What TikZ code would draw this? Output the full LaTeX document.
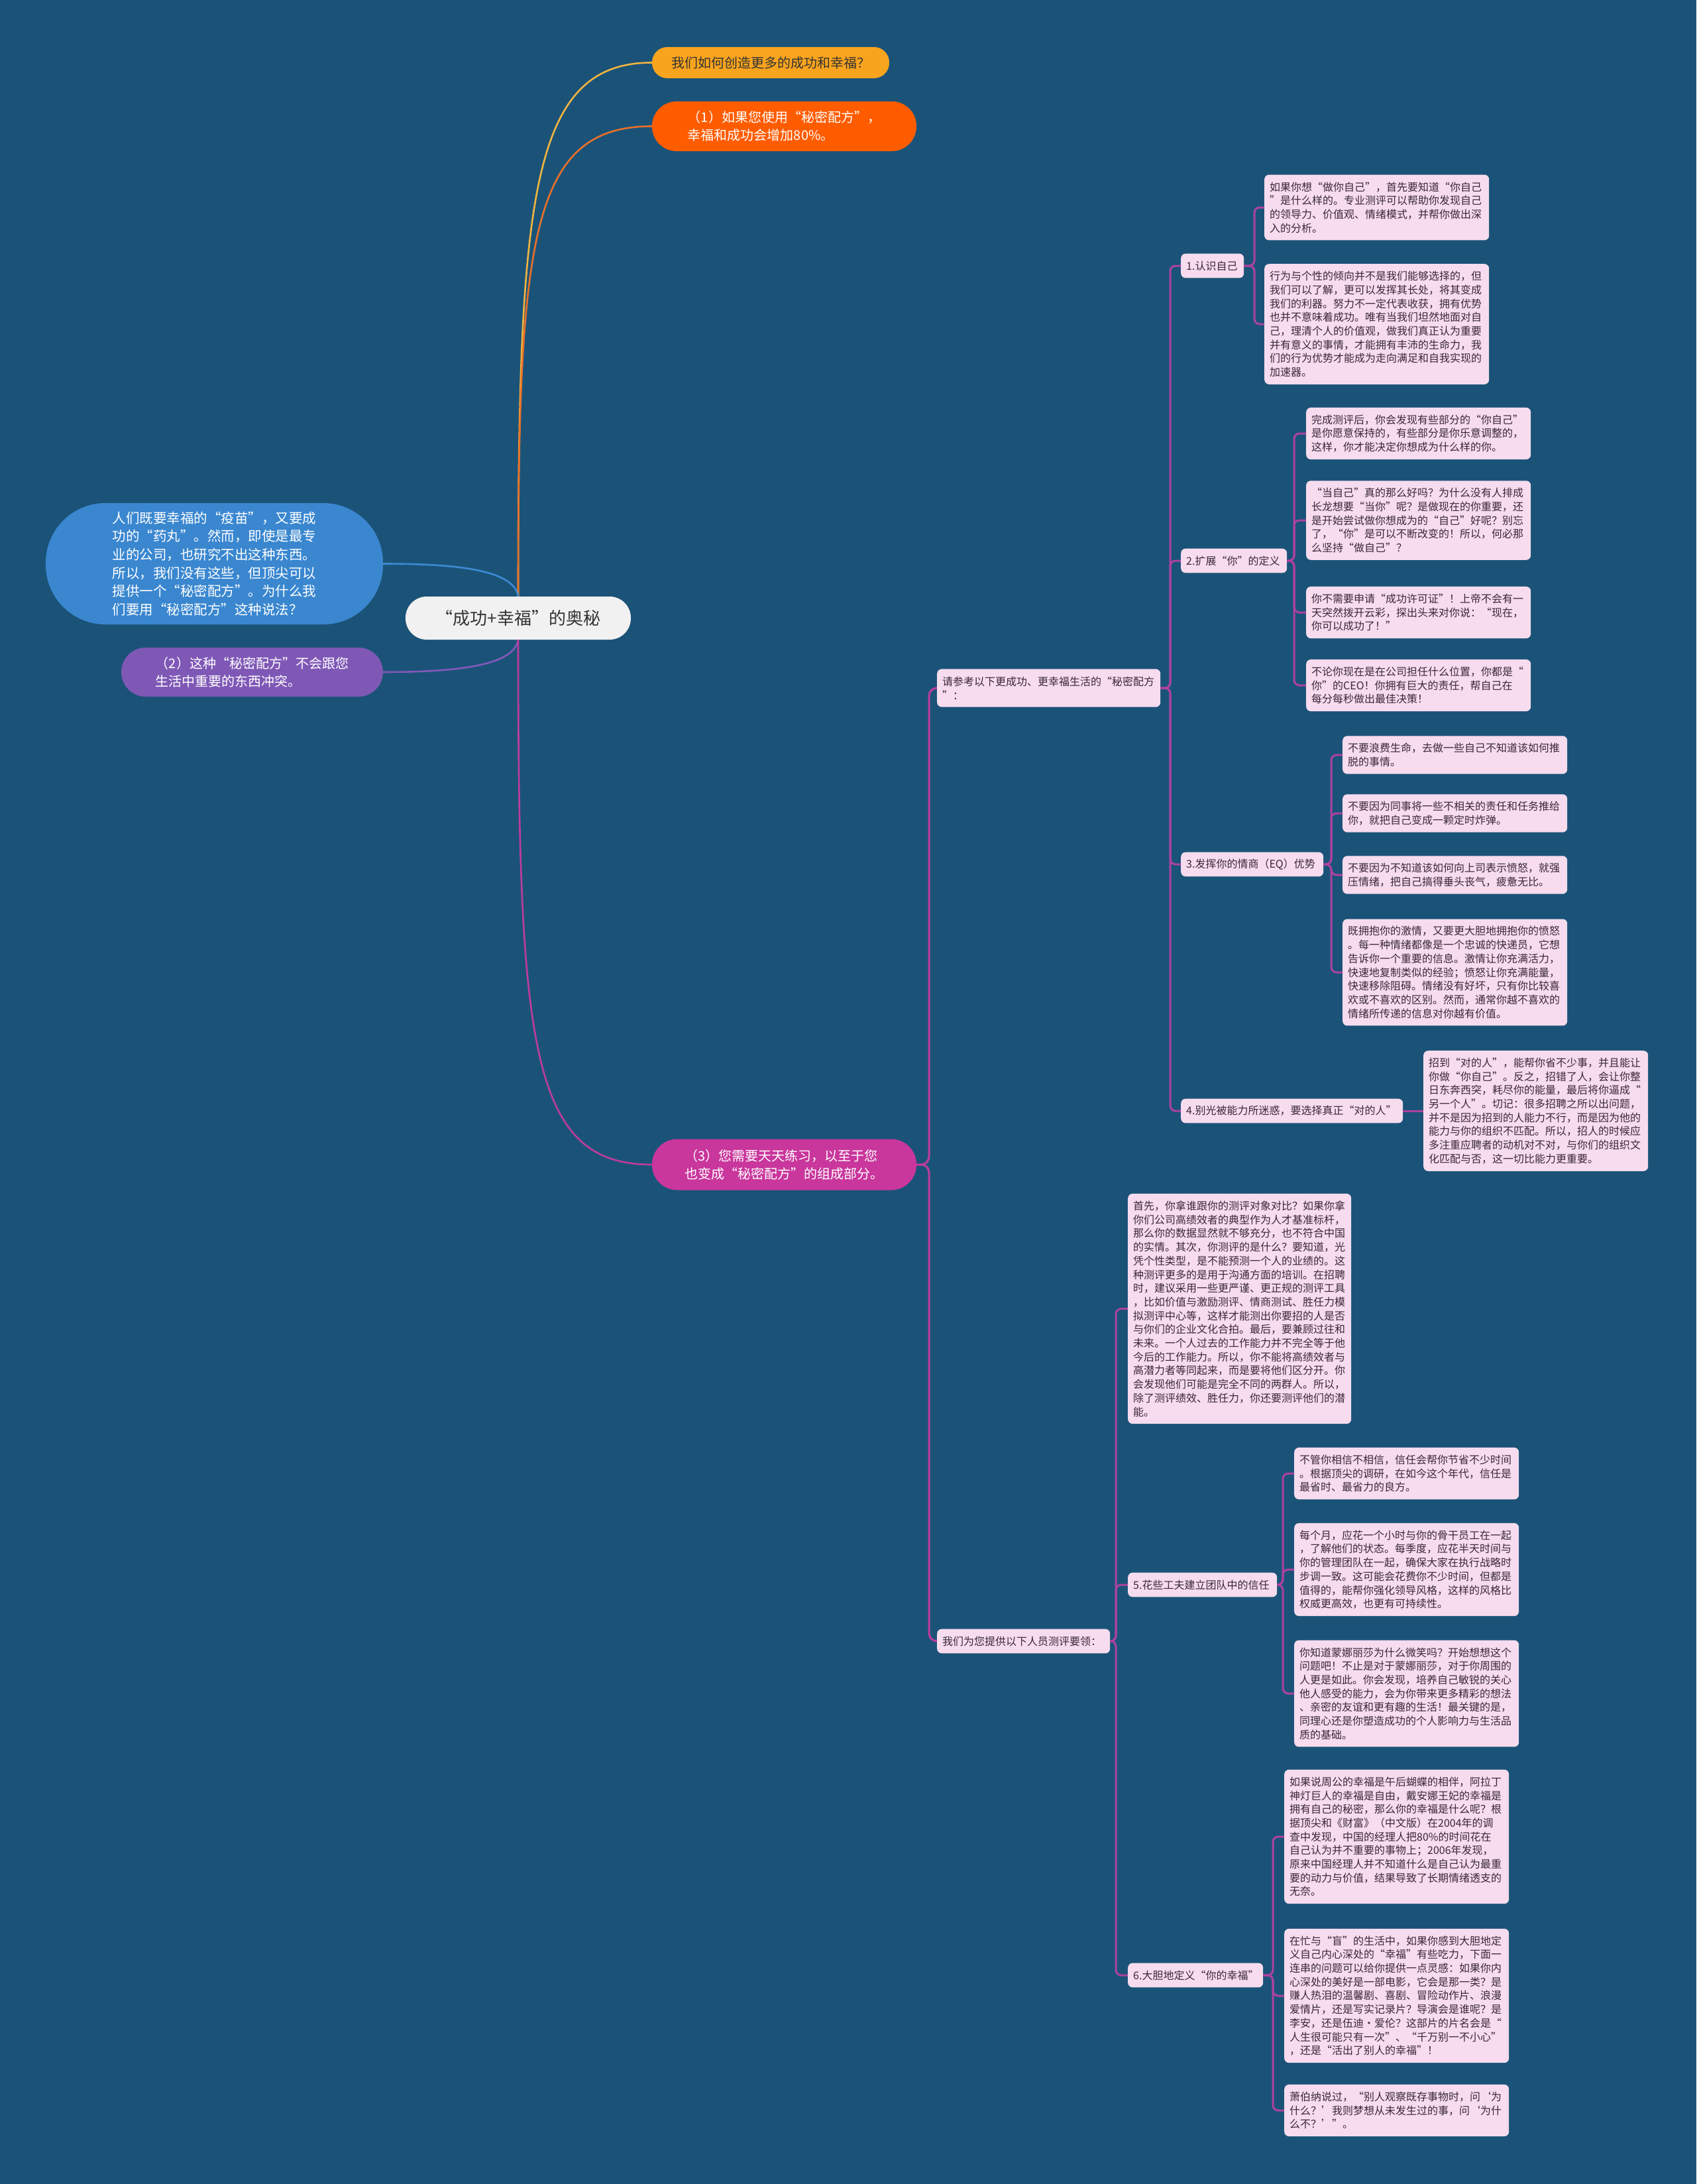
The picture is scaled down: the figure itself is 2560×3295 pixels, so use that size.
\documentclass[tikz,border=0pt]{standalone}
\usepackage{fontspec}
\setmainfont{Noto Sans CJK SC}
\definecolor{bg}{HTML}{1B5378}
\definecolor{leafpink}{HTML}{F6DCEE}
\definecolor{leaftext}{HTML}{3A2835}
\definecolor{conn}{HTML}{AD429F}
\definecolor{ylwfill}{HTML}{F9A41E}
\definecolor{orgfill}{HTML}{FF5C00}
\definecolor{magfill}{HTML}{C9369C}
\definecolor{blufill}{HTML}{3A87D0}
\definecolor{purfill}{HTML}{7F58B6}
\definecolor{cfill}{HTML}{F1F1F1}
\definecolor{ylwline}{HTML}{F0B440}
\definecolor{orgline}{HTML}{E8702A}
\definecolor{bluline}{HTML}{3C8AD2}
\definecolor{purline}{HTML}{8259BA}
\definecolor{magline}{HTML}{BE3C9C}
\tikzset{
  leaf/.style={fill=leafpink, rounded corners=7pt, inner xsep=8pt, inner ysep=4pt,
    align=left, text=leaftext, font=\fontsize{16}{20.7}\selectfont, anchor=west},
  pill/.style={inner sep=0pt, align=left, font=\fontsize{20}{27}\selectfont, text=white},
  cn/.style={draw=conn, line width=3pt, rounded corners=8pt},
  cn2/.style={draw=magline, line width=3pt, rounded corners=12pt},
  mainc/.style={line width=2.6pt}
}
\begin{document}
\begin{tikzpicture}[x=1pt,y=-1pt]
\useasboundingbox (0,0) rectangle (2560,3295);
\fill[bg] (0,0) rectangle (2560,3295);

% spine coordinates
\coordinate (sm) at (1402,0);
\coordinate (sq) at (1766,0);
\coordinate (sw) at (1684,0);
\coordinate (s1) at (1893,0);
\coordinate (s2) at (1953,0);
\coordinate (s3) at (2009,0);
\coordinate (s5) at (1936,0);
\coordinate (s6) at (1921,0);

% center and level 1
\node[pill, fill=cfill, text=black!80, font=\fontsize{26}{30}\selectfont, minimum width=340pt, minimum height=65pt, rounded corners=32pt] (c) at (782,932.5) {“成功+幸福”的奥秘};
\node[pill, fill=ylwfill, text=black!80, minimum width=358pt, minimum height=47pt, rounded corners=23pt] (y) at (1163,94.5) {我们如何创造更多的成功和幸福？};
\node[pill, fill=orgfill, minimum width=399pt, minimum height=75pt, rounded corners=37pt] (o) at (1183.5,190.5) {（1）如果您使用“秘密配方”，\\幸福和成功会增加80\%。};
\node[pill, fill=magfill, minimum width=399pt, minimum height=77pt, rounded corners=38pt] (m) at (1183.5,1757) {（3）您需要天天练习，以至于您\\也变成“秘密配方”的组成部分。};
\node[pill, fill=blufill, font=\fontsize{20.5}{27.7}\selectfont, minimum width=509pt, minimum height=183pt, rounded corners=90pt] (b) at (323.5,850.5) {人们既要幸福的“疫苗”，又要成\\功的“药丸”。然而，即使是最专\\业的公司，也研究不出这种东西。\\所以，我们没有这些，但顶尖可以\\提供一个“秘密配方”。为什么我\\们要用“秘密配方”这种说法？};
\node[pill, fill=purfill, minimum width=395pt, minimum height=74pt, rounded corners=37pt] (p) at (380.5,1014) {（2）这种“秘密配方”不会跟您\\生活中重要的东西冲突。};

% level 2
\node[leaf, text width=321pt, minimum height=57.4pt] (q) at (1414,1038) {请参考以下更成功、更幸福生活的“秘密配方\\”：};
\node[leaf, text width=245pt, minimum height=36.7pt] (w) at (1414,2476) {我们为您提供以下人员测评要领：};

% level 3
\node[leaf, text width=79pt, minimum height=36.7pt] (n1) at (1782,401) {1.认识自己};
\node[leaf, text width=144pt, minimum height=36.7pt] (n2) at (1782,846) {2.扩展“你”的定义};
\node[leaf, text width=199pt, minimum height=36.7pt] (n3) at (1782,1304) {3.发挥你的情商（EQ）优势};
\node[leaf, text width=319pt, minimum height=36.7pt] (n4) at (1782,1676) {4.别光被能力所迷惑，要选择真正“对的人”};
\node[leaf, text width=321pt, minimum height=347.2pt] (t1) at (1702,1974.5) {首先，你拿谁跟你的测评对象对比？如果你拿\\你们公司高绩效者的典型作为人才基准标杆，\\那么你的数据显然就不够充分，也不符合中国\\的实情。其次，你测评的是什么？要知道，光\\凭个性类型，是不能预测一个人的业绩的。这\\种测评更多的是用于沟通方面的培训。在招聘\\时，建议采用一些更严谨、更正规的测评工具\\，比如价值与激励测评、情商测试、胜任力模\\拟测评中心等，这样才能测出你要招的人是否\\与你们的企业文化合拍。最后，要兼顾过往和\\未来。一个人过去的工作能力并不完全等于他\\今后的工作能力。所以，你不能将高绩效者与\\高潜力者等同起来，而是要将他们区分开。你\\会发现他们可能是完全不同的两群人。所以，\\除了测评绩效、胜任力，你还要测评他们的潜\\能。};
\node[leaf, text width=209pt, minimum height=36.7pt] (n5) at (1702,2391) {5.花些工夫建立团队中的信任};
\node[leaf, text width=188pt, minimum height=36.7pt] (n6) at (1702,2980) {6.大胆地定义“你的幸福”};

% leaves
\node[leaf, text width=323pt, minimum height=98.8pt] (a1) at (1908,313) {如果你想“做你自己”，首先要知道“你自己\\”是什么样的。专业测评可以帮助你发现自己\\的领导力、价值观、情绪模式，并帮你做出深\\入的分析。};
\node[leaf, text width=323pt, minimum height=181.6pt] (a2) at (1908,489) {行为与个性的倾向并不是我们能够选择的，但\\我们可以了解，更可以发挥其长处，将其变成\\我们的利器。努力不一定代表收获，拥有优势\\也并不意味着成功。唯有当我们坦然地面对自\\己，理清个人的价值观，做我们真正认为重要\\并有意义的事情，才能拥有丰沛的生命力，我\\们的行为优势才能成为走向满足和自我实现的\\加速器。};
\node[leaf, text width=323pt, minimum height=78.1pt] (b1) at (1971,654) {完成测评后，你会发现有些部分的“你自己”\\是你愿意保持的，有些部分是你乐意调整的，\\这样，你才能决定你想成为什么样的你。};
\node[leaf, text width=323pt, minimum height=119.5pt] (b2) at (1971,785) {“当自己”真的那么好吗？为什么没有人排成\\长龙想要“当你”呢？是做现在的你重要，还\\是开始尝试做你想成为的“自己”好呢？别忘\\了，“你”是可以不断改变的！所以，何必那\\么坚持“做自己”？};
\node[leaf, text width=323pt, minimum height=78.1pt] (b3) at (1971,924) {你不需要申请“成功许可证”！上帝不会有一\\天突然拨开云彩，探出头来对你说：“现在，\\你可以成功了！”};
\node[leaf, text width=323pt, minimum height=78.1pt] (b4) at (1971,1034) {不论你现在是在公司担任什么位置，你都是“\\你”的CEO！你拥有巨大的责任，帮自己在\\每分每秒做出最佳决策！};
\node[leaf, text width=323pt, minimum height=57.4pt] (c1) at (2026,1139) {不要浪费生命，去做一些自己不知道该如何推\\脱的事情。};
\node[leaf, text width=323pt, minimum height=57.4pt] (c2) at (2026,1227) {不要因为同事将一些不相关的责任和任务推给\\你，就把自己变成一颗定时炸弹。};
\node[leaf, text width=323pt, minimum height=57.4pt] (c3) at (2026,1320) {不要因为不知道该如何向上司表示愤怒，就强\\压情绪，把自己搞得垂头丧气，疲惫无比。};
\node[leaf, text width=323pt, minimum height=160.9pt] (c4) at (2026,1467) {既拥抱你的激情，又要更大胆地拥抱你的愤怒\\。每一种情绪都像是一个忠诚的快递员，它想\\告诉你一个重要的信息。激情让你充满活力，\\快速地复制类似的经验；愤怒让你充满能量，\\快速移除阻碍。情绪没有好坏，只有你比较喜\\欢或不喜欢的区别。然而，通常你越不喜欢的\\情绪所传递的信息对你越有价值。};
\node[leaf, text width=323pt, minimum height=181.6pt] (d1) at (2148,1676) {招到“对的人”，能帮你省不少事，并且能让\\你做“你自己”。反之，招错了人，会让你整\\日东奔西突，耗尽你的能量，最后将你逼成“\\另一个人”。切记：很多招聘之所以出问题，\\并不是因为招到的人能力不行，而是因为他的\\能力与你的组织不匹配。所以，招人的时候应\\多注重应聘者的动机对不对，与你们的组织文\\化匹配与否，这一切比能力更重要。};
\node[leaf, text width=323pt, minimum height=78.1pt] (e1) at (1953,2223) {不管你相信不相信，信任会帮你节省不少时间\\。根据顶尖的调研，在如今这个年代，信任是\\最省时、最省力的良方。};
\node[leaf, text width=323pt, minimum height=140.2pt] (e2) at (1953,2368) {每个月，应花一个小时与你的骨干员工在一起\\，了解他们的状态。每季度，应花半天时间与\\你的管理团队在一起，确保大家在执行战略时\\步调一致。这可能会花费你不少时间，但都是\\值得的，能帮你强化领导风格，这样的风格比\\权威更高效，也更有可持续性。};
\node[leaf, text width=323pt, minimum height=160.9pt] (e3) at (1953,2555) {你知道蒙娜丽莎为什么微笑吗？开始想想这个\\问题吧！不止是对于蒙娜丽莎，对于你周围的\\人更是如此。你会发现，培养自己敏锐的关心\\他人感受的能力，会为你带来更多精彩的想法\\、亲密的友谊和更有趣的生活！最关键的是，\\同理心还是你塑造成功的个人影响力与生活品\\质的基础。};
\node[leaf, text width=323pt, minimum height=202.3pt] (f1) at (1938,2771) {如果说周公的幸福是午后蝴蝶的相伴，阿拉丁\\神灯巨人的幸福是自由，戴安娜王妃的幸福是\\拥有自己的秘密，那么你的幸福是什么呢？根\\据顶尖和《财富》（中文版）在2004年的调\\查中发现，中国的经理人把80\%的时间花在\\自己认为并不重要的事物上；2006年发现，\\原来中国经理人并不知道什么是自己认为最重\\要的动力与价值，结果导致了长期情绪透支的\\无奈。};
\node[leaf, text width=323pt, minimum height=202.3pt] (f2) at (1938,3011) {在忙与“盲”的生活中，如果你感到大胆地定\\义自己内心深处的“幸福”有些吃力，下面一\\连串的问题可以给你提供一点灵感：如果你内\\心深处的美好是一部电影，它会是那一类？是\\赚人热泪的温馨剧、喜剧、冒险动作片、浪漫\\爱情片，还是写实记录片？导演会是谁呢？是\\李安，还是伍迪•爱伦？这部片的片名会是“\\人生很可能只有一次”、“千万别一不小心”\\，还是“活出了别人的幸福”！};
\node[leaf, text width=323pt, minimum height=78.1pt] (f3) at (1938,3184) {萧伯纳说过，“别人观察既存事物时，问‘为\\什么？’我则梦想从未发生过的事，问‘为什\\么不？’”。};

% main curved connectors
\draw[mainc, ylwline] (c.north) .. controls (782,300) and (800,94.5) .. (y.west);
\draw[mainc, orgline] (c.north) .. controls (782,360) and (800,190.5) .. (o.west);
\draw[mainc, bluline] (c.north) .. controls (776,862) and (700,850.5) .. (b.east);
\draw[mainc, purline] (c.south) .. controls (776,1002) and (700,1014) .. (p.east);
\draw[mainc, magline] (c.south) .. controls (782,1580) and (800,1757) .. (m.west);

% level 2
\draw[cn2] (m.east) -- (m.east -| sm) |- (q.west);
\draw[cn2] (m.east) -- (m.east -| sm) |- (w.west);

% level 3
\foreach \n in {n1,n2,n3,n4} { \draw[cn] (q.east) -- (q.east -| sq) |- (\n.west); }
\foreach \n in {t1,n5,n6} { \draw[cn] (w.east) -- (w.east -| sw) |- (\n.west); }

% level 4
\foreach \n in {a1,a2} { \draw[cn] (n1.east) -- (n1.east -| s1) |- (\n.west); }
\foreach \n in {b1,b2,b3,b4} { \draw[cn] (n2.east) -- (n2.east -| s2) |- (\n.west); }
\foreach \n in {c1,c2,c3,c4} { \draw[cn] (n3.east) -- (n3.east -| s3) |- (\n.west); }
\draw[cn] (n4.east) -- (d1.west);
\foreach \n in {e1,e2,e3} { \draw[cn] (n5.east) -- (n5.east -| s5) |- (\n.west); }
\foreach \n in {f1,f2,f3} { \draw[cn] (n6.east) -- (n6.east -| s6) |- (\n.west); }
\end{tikzpicture}
\end{document}
